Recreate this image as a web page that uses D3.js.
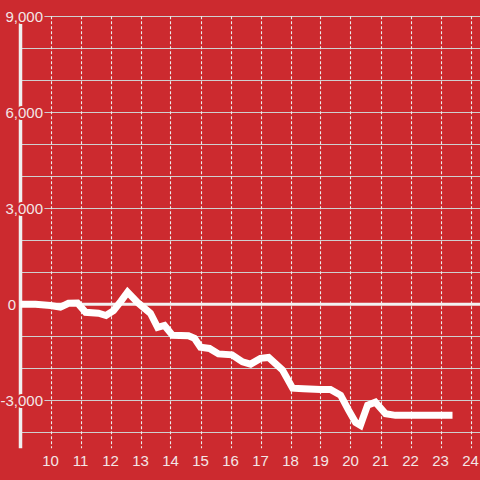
<!DOCTYPE html>
<html>
<head>
<meta charset="utf-8">
<script src="https://cdn.jsdelivr.net/npm/d3@7"></script>
<style>
  html, body { margin: 0; padding: 0; background: #cc2a2f; }
  svg { display: block; }
  text { font-family: "Liberation Sans", Arial, sans-serif; }
</style>
</head>
<body>
<svg id="chart" width="480" height="480"></svg>
<script>
// ---- data ----
const hours = [9.0, 9.5, 10.0, 10.33, 10.6, 10.9, 11.17, 11.6, 11.85, 12.1, 12.35, 12.57, 12.9, 13.1, 13.33, 13.57, 13.8, 14.07, 14.6, 14.8, 15.0, 15.3, 15.6, 16.05, 16.4, 16.67, 17.0, 17.27, 17.73, 18.07, 18.43, 19.0, 19.33, 19.67, 19.93, 20.17, 20.33, 20.57, 20.83, 21.17, 21.5, 23.4];
const values = [0, 0, -40, -90, 30, 40, -250, -280, -350, -200, 100, 380, 60, -100, -280, -720, -660, -970, -980, -1060, -1340, -1380, -1550, -1580, -1800, -1870, -1690, -1660, -2050, -2620, -2640, -2660, -2660, -2840, -3300, -3690, -3780, -3150, -3060, -3420, -3470, -3470];
const xTicks = [10, 11, 12, 13, 14, 15, 16, 17, 18, 19, 20, 21, 22, 23, 24];
const yGrid = [9000, 8000, 7000, 6000, 5000, 4000, 3000, 2000, 1000, 0, -1000, -2000, -3000, -4000];
const yLabels = [9000, 6000, 3000, 0, -3000];

const bg = "#cc2a2f";
const svg = d3.select("#chart");
const x = d3.scaleLinear().domain([9, 24]).range([20.5, 470.5]);
const y = d3.scaleLinear().domain([9000, -4500]).range([16.3, 448.3]);
const fmt = d3.formatLocale({decimal: ".", thousands: ",", grouping: [3], currency: ["", ""], minus: "-"}).format(",");

// horizontal grid
svg.append("g").selectAll("line").data(yGrid.filter(d => d !== 0)).join("line")
  .attr("x1", x(9)).attr("x2", 480)
  .attr("y1", d => Math.round(y(d)) + 0.5).attr("y2", d => Math.round(y(d)) + 0.5)
  .attr("stroke", "#cfcfcf").attr("stroke-width", 1.2);

// vertical dashed grid
svg.append("g").selectAll("line").data(xTicks).join("line")
  .attr("x1", d => Math.round(x(d)) + 0.5).attr("x2", d => Math.round(x(d)) + 0.5)
  .attr("y1", y(9000)).attr("y2", y(-4500))
  .attr("stroke", "#ececec").attr("stroke-width", 1.1)
  .attr("stroke-dasharray", "3,2");

// zero line
svg.append("line")
  .attr("x1", x(9)).attr("x2", 480)
  .attr("y1", y(0)).attr("y2", y(0))
  .attr("stroke", "#f2f2f2").attr("stroke-width", 3);

// y axis line
svg.append("line")
  .attr("x1", x(9)).attr("x2", x(9))
  .attr("y1", y(9000)).attr("y2", y(-4500))
  .attr("stroke", "#f0f0f0").attr("stroke-width", 3.5);

// y labels
svg.append("g").selectAll("text").data(yLabels).join("text")
  .attr("x", d => d === 0 ? 16 : 43)
  .attr("y", d => y(d) + 6)
  .attr("text-anchor", "end")
  .attr("font-size", 15)
  .attr("fill", "#f3e6e6")
  .attr("stroke", bg).attr("stroke-width", d => d === 0 ? 0 : 4)
  .attr("paint-order", "stroke")
  .text(d => fmt(d));

// x labels
svg.append("g").selectAll("text").data(xTicks).join("text")
  .attr("x", d => x(d))
  .attr("y", 466)
  .attr("text-anchor", "middle")
  .attr("font-size", 15)
  .attr("fill", "#f3e6e6")
  .text(d => d);

// data line
const line = d3.line().x((d, i) => x(hours[i])).y(d => y(d));
svg.append("path")
  .attr("d", line(values))
  .attr("fill", "none")
  .attr("stroke", "#ffffff")
  .attr("stroke-width", 7)
  .attr("stroke-linejoin", "miter");
</script>
</body>
</html>
